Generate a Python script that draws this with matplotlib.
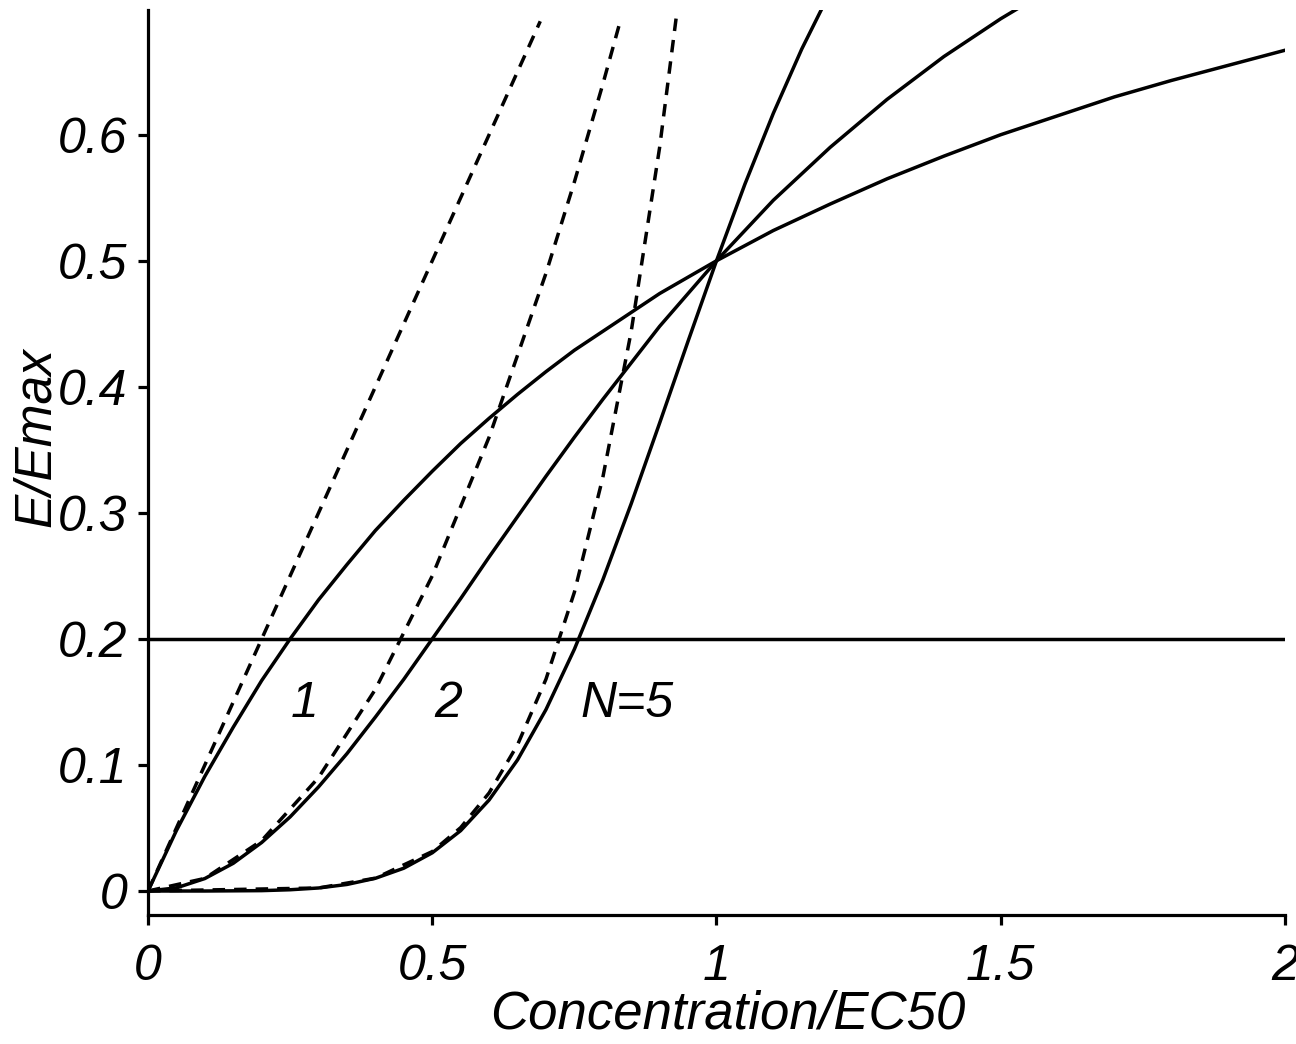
import matplotlib
matplotlib.use("Agg")
import matplotlib.pyplot as plt

# Hill curves E/Emax, N = 1, 2, 5 (solid)
x_n1 = [0, 0.025, 0.05, 0.1, 0.15, 0.2, 0.25, 0.3, 0.35, 0.4, 0.45, 0.5, 0.55, 0.6, 0.65, 0.7,
        0.75, 0.8, 0.85, 0.9, 0.95, 1.0, 1.1, 1.2, 1.3, 1.4, 1.5, 1.6, 1.7, 1.8, 1.9, 2.0]
y_n1 = [0, 0.024, 0.048, 0.091, 0.130, 0.167, 0.200, 0.231, 0.259, 0.286, 0.310, 0.333, 0.355,
        0.375, 0.394, 0.412, 0.429, 0.444, 0.459, 0.474, 0.487, 0.500, 0.524, 0.545,
        0.565, 0.583, 0.600, 0.615, 0.630, 0.643, 0.655, 0.667]

x_n2 = [0, 0.05, 0.1, 0.15, 0.2, 0.25, 0.3, 0.35, 0.4, 0.45, 0.5, 0.55, 0.6, 0.65, 0.7,
        0.75, 0.8, 0.85, 0.9, 0.95, 1.0, 1.1, 1.2, 1.3, 1.4, 1.5, 1.6]
y_n2 = [0, 0.0025, 0.0099, 0.022, 0.0385, 0.0588, 0.0826, 0.109, 0.138, 0.168, 0.200,
        0.232, 0.265, 0.297, 0.329, 0.360, 0.390, 0.419, 0.448, 0.474, 0.500, 0.548,
        0.590, 0.628, 0.662, 0.692, 0.719]

x_n5 = [0, 0.1, 0.2, 0.25, 0.3, 0.35, 0.4, 0.45, 0.5, 0.55, 0.6, 0.65, 0.7, 0.75, 0.8,
        0.85, 0.9, 0.95, 1.0, 1.05, 1.1, 1.15, 1.2]
y_n5 = [0, 0.0, 0.0003, 0.001, 0.0024, 0.0052, 0.0101, 0.0181, 0.0303, 0.0479, 0.0722,
        0.1040, 0.1439, 0.1918, 0.2468, 0.3073, 0.3713, 0.4362, 0.500, 0.5608, 0.6170,
        0.6680, 0.7133]

# low-concentration approximations (dashed)
xd_n1 = [0, 0.69]
yd_n1 = [0, 0.69]

xd_n2 = [0, 0.1, 0.2, 0.3, 0.4, 0.5, 0.6, 0.7, 0.75, 0.8, 0.83]
yd_n2 = [0, 0.01, 0.04, 0.09, 0.16, 0.25, 0.36, 0.49, 0.5625, 0.64, 0.689]

xd_n5 = [0, 0.3, 0.4, 0.5, 0.55, 0.6, 0.65, 0.7, 0.75, 0.8, 0.85, 0.9, 0.93]
yd_n5 = [0, 0.0024, 0.0102, 0.0313, 0.0503, 0.0778, 0.116, 0.168, 0.237, 0.328, 0.444,
         0.590, 0.696]

threshold = 0.2
curve_labels = ["1", "2", "N=5"]
label_x = [0.276, 0.528, 0.843]
label_y = [0.148, 0.148, 0.148]

plt.rcParams['font.family'] = ['Liberation Sans', 'DejaVu Sans']

fig = plt.figure(figsize=(12.96, 10.44), dpi=100)
ax = fig.add_axes([0.1142, 0.1236, 0.8773, 0.8669])

lw = 2.5
dash = (0, (3.6, 2.6))
ax.plot(x_n1, y_n1, color="black", lw=lw)
ax.plot(x_n2, y_n2, color="black", lw=lw)
ax.plot(x_n5, y_n5, color="black", lw=lw)
ax.plot(xd_n1, yd_n1, color="black", lw=lw, linestyle=dash)
ax.plot(xd_n2, yd_n2, color="black", lw=lw, linestyle=dash)
ax.plot(xd_n5, yd_n5, color="black", lw=lw, linestyle=dash)
ax.axhline(threshold, color="black", lw=lw)

for t, lx, ly in zip(curve_labels, label_x, label_y):
    ax.text(lx, ly, t, fontsize=36, fontstyle="italic", ha="center", va="center")

ax.set_xlim(0, 2)
ax.set_ylim(-0.019, 0.699)
ax.set_xticks([0, 0.5, 1, 1.5, 2])
ax.set_xticklabels(["0", "0.5", "1", "1.5", "2"])
ax.set_yticks([0, 0.1, 0.2, 0.3, 0.4, 0.5, 0.6])
ax.set_yticklabels(["0", "0.1", "0.2", "0.3", "0.4", "0.5", "0.6"])

for side in ["top", "right"]:
    ax.spines[side].set_visible(False)
for side in ["left", "bottom"]:
    ax.spines[side].set_linewidth(2.3)

ax.tick_params(axis="both", direction="out", length=7, width=2.3, labelsize=36)
ax.tick_params(axis="y", pad=8)
ax.tick_params(axis="x", pad=14)
for lab in ax.get_xticklabels() + ax.get_yticklabels():
    lab.set_fontstyle("italic")

ax.set_xlabel("Concentration/EC50", fontsize=38, fontstyle="italic")
ax.set_ylabel("E/Emax", fontsize=37, fontstyle="italic")
ax.xaxis.set_label_coords(0.51, -0.082)
ax.yaxis.set_label_coords(-0.077, 0.528)

fig.savefig("out.png", dpi=100)
